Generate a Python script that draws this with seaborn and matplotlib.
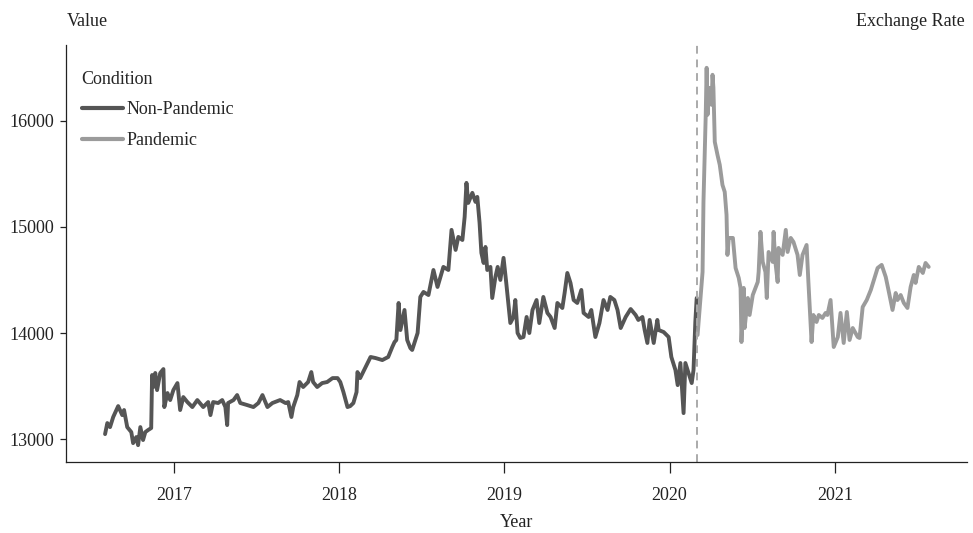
import matplotlib
matplotlib.use("Agg")
import matplotlib.pyplot as plt
import seaborn as sns
import pandas as pd

# ---- data ----
non_pandemic_dates = [
    "2016-08-01", "2016-08-06", "2016-08-12", "2016-08-19", "2016-08-30", "2016-09-08", "2016-09-12",
    "2016-09-19", "2016-09-28", "2016-10-02", "2016-10-09", "2016-10-13", "2016-10-18", "2016-10-24",
    "2016-10-29", "2016-11-04", "2016-11-11", "2016-11-13", "2016-11-16", "2016-11-20", "2016-11-24",
    "2016-12-01", "2016-12-08", "2016-12-10", "2016-12-17", "2016-12-23", "2016-12-30", "2017-01-08",
    "2017-01-14", "2017-01-21", "2017-01-30", "2017-02-10", "2017-02-21", "2017-03-06", "2017-03-17",
    "2017-03-22", "2017-03-28", "2017-04-08", "2017-04-17", "2017-04-24", "2017-04-28", "2017-04-30",
    "2017-05-12", "2017-05-20", "2017-05-27", "2017-06-11", "2017-06-25", "2017-07-06", "2017-07-15",
    "2017-07-26", "2017-08-06", "2017-08-23", "2017-09-04", "2017-09-10", "2017-09-17", "2017-09-21",
    "2017-09-30", "2017-10-05", "2017-10-13", "2017-10-24", "2017-10-31", "2017-11-04", "2017-11-13",
    "2017-11-24", "2017-12-05", "2017-12-17", "2017-12-28", "2018-01-03", "2018-01-10", "2018-01-19",
    "2018-01-25", "2018-02-01", "2018-02-08", "2018-02-10", "2018-02-16", "2018-02-28", "2018-03-11",
    "2018-03-22", "2018-04-06", "2018-04-19", "2018-04-28", "2018-05-03", "2018-05-07", "2018-05-12",
    "2018-05-16", "2018-05-25", "2018-05-31", "2018-06-07", "2018-06-11", "2018-06-23", "2018-06-29",
    "2018-07-06", "2018-07-17", "2018-07-28", "2018-08-06", "2018-08-19", "2018-08-30", "2018-09-06",
    "2018-09-15", "2018-09-21", "2018-09-30", "2018-10-05", "2018-10-09", "2018-10-13", "2018-10-22",
    "2018-10-29", "2018-11-02", "2018-11-07", "2018-11-11", "2018-11-16", "2018-11-20", "2018-11-24",
    "2018-12-01", "2018-12-05", "2018-12-12", "2018-12-17", "2018-12-23", "2018-12-30", "2019-01-05",
    "2019-01-14", "2019-01-21", "2019-01-25", "2019-01-30", "2019-02-05", "2019-02-12", "2019-02-19",
    "2019-02-25", "2019-03-04", "2019-03-13", "2019-03-19", "2019-03-28", "2019-04-06", "2019-04-13",
    "2019-04-22", "2019-04-28", "2019-05-09", "2019-05-14", "2019-05-20", "2019-05-27", "2019-06-03",
    "2019-06-11", "2019-06-20", "2019-06-25", "2019-07-06", "2019-07-12", "2019-07-21", "2019-07-30",
    "2019-08-08", "2019-08-17", "2019-08-23", "2019-09-01", "2019-09-08", "2019-09-15", "2019-09-26",
    "2019-10-07", "2019-10-18", "2019-10-24", "2019-11-02", "2019-11-07", "2019-11-13", "2019-11-18",
    "2019-11-27", "2019-12-05", "2019-12-08", "2019-12-19", "2019-12-30", "2020-01-05", "2020-01-14",
    "2020-01-19", "2020-01-25", "2020-02-01", "2020-02-05", "2020-02-12", "2020-02-19", "2020-02-23",
    "2020-02-27", "2020-03-01",
]
non_pandemic_values = [
    13047, 13151, 13113, 13208, 13311, 13226, 13274,
    13113, 13066, 12962, 13019, 12943, 13113, 12991,
    13066, 13085, 13104, 13604, 13491, 13623, 13462,
    13623, 13660, 13302, 13434, 13368, 13462, 13528,
    13274, 13396, 13349, 13302, 13368, 13302, 13349,
    13226, 13349, 13340, 13368, 13302, 13132, 13340,
    13368, 13415, 13340, 13321, 13302, 13340, 13415,
    13302, 13340, 13368, 13340, 13349, 13208, 13302,
    13415, 13538, 13491, 13538, 13632, 13538, 13491,
    13528, 13538, 13575, 13575, 13538, 13443, 13302,
    13311, 13340, 13443, 13632, 13575, 13679, 13774,
    13764, 13745, 13774, 13868, 13915, 13934, 14283,
    14028, 14217, 13934, 13858, 13840, 14000, 14340,
    14387, 14358, 14594, 14434, 14623, 14594, 14972,
    14783, 14906, 14877, 15094, 15415, 15226, 15321,
    15236, 15283, 15038, 14755, 14660, 14811, 14594,
    14623, 14330, 14528, 14623, 14500, 14708, 14472,
    14094, 14151, 14311, 14000, 13953, 13962, 14151,
    14000, 14217, 14311, 14094, 14340, 14189, 14151,
    14047, 14283, 14236, 14377, 14566, 14472, 14311,
    14283, 14406, 14189, 14151, 14217, 13962, 14094,
    14311, 14217, 14340, 14311, 14217, 14047, 14151,
    14226, 14170, 14123, 14151, 14028, 13906, 14123,
    13906, 14123, 14028, 14009, 13962, 13774, 13651,
    13509, 13717, 13245, 13717, 13623, 13528, 13651,
    14104, 14330,
]

pandemic_dates = [
    "2020-03-03", "2020-03-07", "2020-03-14", "2020-03-16", "2020-03-21", "2020-03-23", "2020-03-25",
    "2020-03-29", "2020-04-03", "2020-04-05", "2020-04-07", "2020-04-10", "2020-04-16", "2020-04-21",
    "2020-04-27", "2020-05-02", "2020-05-06", "2020-05-08", "2020-05-11", "2020-05-20", "2020-05-26",
    "2020-06-02", "2020-06-06", "2020-06-08", "2020-06-13", "2020-06-15", "2020-06-22", "2020-06-26",
    "2020-07-03", "2020-07-14", "2020-07-16", "2020-07-20", "2020-07-25", "2020-07-31", "2020-08-03",
    "2020-08-07", "2020-08-16", "2020-08-18", "2020-08-22", "2020-08-27", "2020-08-29", "2020-09-07",
    "2020-09-14", "2020-09-18", "2020-09-25", "2020-10-01", "2020-10-10", "2020-10-15", "2020-10-21",
    "2020-10-30", "2020-11-03", "2020-11-10", "2020-11-14", "2020-11-21", "2020-11-26", "2020-12-04",
    "2020-12-11", "2020-12-15", "2020-12-22", "2020-12-29", "2021-01-07", "2021-01-13", "2021-01-20",
    "2021-01-27", "2021-02-02", "2021-02-09", "2021-02-20", "2021-02-24", "2021-03-03", "2021-03-12",
    "2021-03-21", "2021-04-05", "2021-04-14", "2021-04-23", "2021-04-29", "2021-05-08", "2021-05-15",
    "2021-05-19", "2021-05-26", "2021-06-02", "2021-06-10", "2021-06-17", "2021-06-24", "2021-06-28",
    "2021-07-05", "2021-07-14", "2021-07-20", "2021-07-27",
]
pandemic_values = [
    13981, 14198, 14575, 15236, 16057, 16500, 16057,
    16311, 16151, 16434, 16311, 15802, 15679, 15585,
    15396, 15330, 15113, 14736, 14896, 14896, 14613,
    14519, 14425, 13915, 14425, 14047, 14330, 14170,
    14358, 14481, 14575, 14953, 14670, 14575, 14330,
    14764, 14670, 14953, 14670, 14481, 14802, 14736,
    14972, 14764, 14896, 14858, 14736, 14547, 14736,
    14830, 14481, 13915, 14170, 14104, 14170, 14142,
    14189, 14170, 14311, 13868, 13962, 14189, 13906,
    14198, 13934, 14047, 13962, 13953, 14245, 14311,
    14406, 14613, 14642, 14528, 14406, 14217, 14377,
    14311, 14358, 14283, 14236, 14434, 14547, 14472,
    14623, 14566, 14660, 14623,
]

conditions = ["Non-Pandemic", "Pandemic"]
y_ticks = [13000, 14000, 15000, 16000]
x_tick_years = [2017, 2018, 2019, 2020, 2021]
pandemic_start = "2020-03-01"

# ---- build table ----
df = pd.concat([
    pd.DataFrame({"Date": pd.to_datetime(non_pandemic_dates), "Value": non_pandemic_values,
                  "Condition": conditions[0]}),
    pd.DataFrame({"Date": pd.to_datetime(pandemic_dates), "Value": pandemic_values,
                  "Condition": conditions[1]}),
], ignore_index=True)

sns.set_theme(style="ticks")
plt.rcParams["font.family"] = ["Liberation Serif", "DejaVu Serif"]

FS = 13
TXT = "#222222"

fig = plt.figure(figsize=(9.73, 5.33), dpi=100)
ax = fig.add_axes([0.068, 0.133, 0.926, 0.783])

palette = {"Non-Pandemic": "#555555", "Pandemic": "#9b9b9b"}
sns.lineplot(data=df, x="Date", y="Value", hue="Condition", palette=palette,
             linewidth=2.8, ax=ax, estimator=None, sort=True)

ax.axvline(pd.Timestamp(pandemic_start), color="#aaaaaa", linestyle=(0, (4, 3)), linewidth=1.4)

ax.set_ylim(12783, 16717)
ax.set_xlim(pd.Timestamp("2016-05-07"), pd.Timestamp("2021-10-20"))
ax.set_yticks(y_ticks)
ax.set_yticklabels([str(v) for v in y_ticks])
ax.set_xticks([pd.Timestamp(f"{y}-01-01") for y in x_tick_years])
ax.set_xticklabels([str(y) for y in x_tick_years])

ax.tick_params(axis="both", labelsize=FS, colors=TXT, width=0.9)
ax.tick_params(axis="x", length=8, pad=10)
ax.tick_params(axis="y", length=4.5, pad=4)
ax.set_xlabel("Year", fontsize=FS, color=TXT, labelpad=7)
ax.set_ylabel("")
for s in ["top", "right"]:
    ax.spines[s].set_visible(False)
for s in ["left", "bottom"]:
    ax.spines[s].set_linewidth(0.9)
    ax.spines[s].set_color(TXT)

leg = ax.legend(title="Condition", loc="upper left", bbox_to_anchor=(-0.005, 0.985),
                frameon=False, fontsize=FS, title_fontsize=FS,
                handlelength=2.3, handletextpad=0.2, labelspacing=0.75, borderpad=0.6)
leg._legend_box.align = "left"
for line in leg.get_lines():
    line.set_linewidth(3)

fig.text(0.069, 0.96, "Value", fontsize=FS, ha="left", va="center", color=TXT)
fig.text(0.992, 0.96, "Exchange Rate", fontsize=FS, ha="right", va="center", color=TXT)

fig.savefig("out.png", dpi=100)
